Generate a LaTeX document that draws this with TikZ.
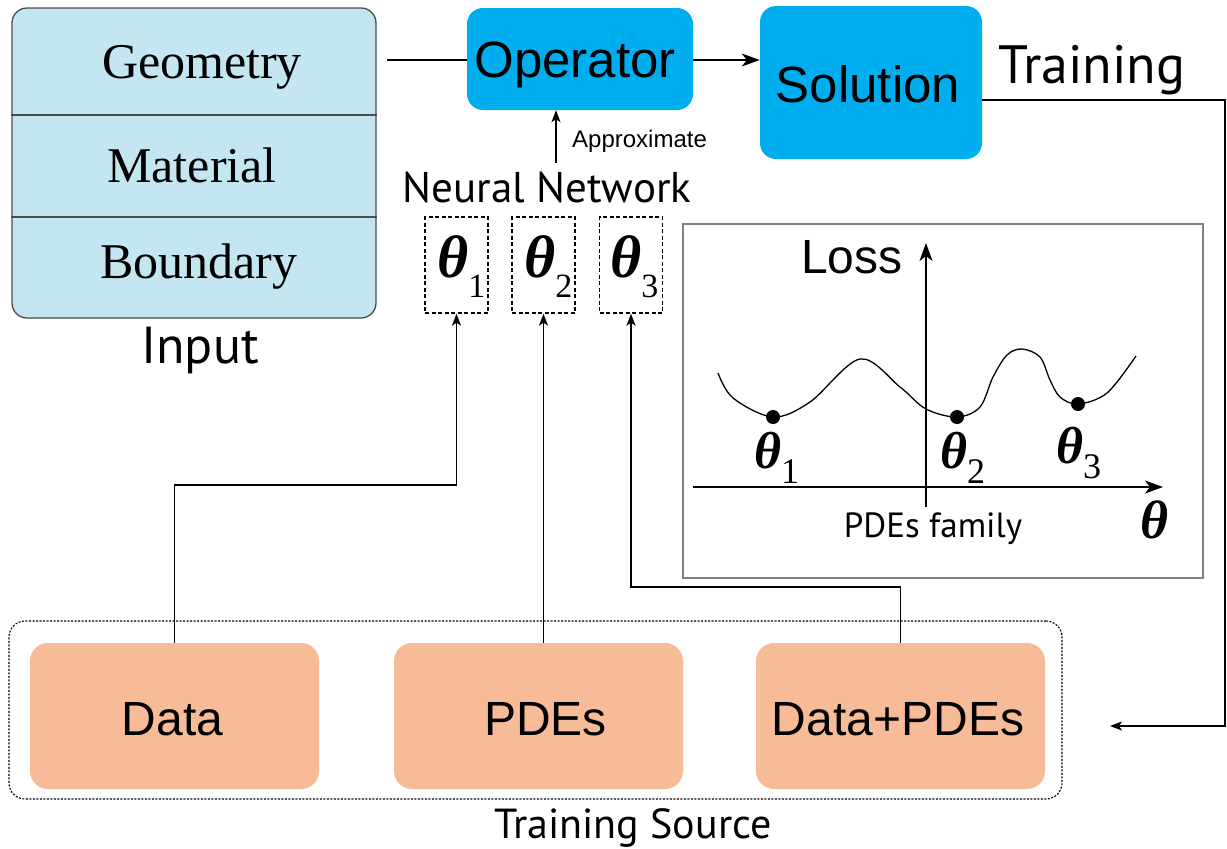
\documentclass[tikz,border=0pt]{standalone}
\usepackage{fontspec}
\setmainfont{Liberation Serif}
\setsansfont{Liberation Sans}
\newfontfamily\myr{PT Sans}
\usetikzlibrary{arrows.meta}
\definecolor{inblue}{HTML}{C3E6F1}
\definecolor{opblue}{HTML}{00AEEF}
\definecolor{srcorange}{HTML}{F7BB97}
\definecolor{panelgray}{HTML}{808080}
\definecolor{edgegray}{HTML}{4D4D4D}
\newcommand{\fs}[1]{\fontsize{#1}{#1}\selectfont}
% bold theta with a subscript index
\newcommand{\thbox}[1]{{\fs{60}\bfseries\itshape θ}\raisebox{-20pt}{\fs{34}#1}}
\newcommand{\thplot}[1]{{\fs{52}\bfseries\itshape θ}\raisebox{-15pt}{\fs{36}#1}}
\begin{document}
\begin{tikzpicture}[x=1pt,y=-1pt,
  inputbox/.style={draw=edgegray, line width=1.3pt, fill=inblue, rounded corners=15pt, inner sep=0pt},
  divider/.style={draw=edgegray, line width=1.3pt},
  opbox/.style={fill=opblue, rounded corners=16pt, inner sep=0pt},
  srcbox/.style={fill=srcorange, rounded corners=18pt, inner sep=0pt, minimum width=289pt, minimum height=146pt},
  srcframe/.style={draw, line width=1.1pt, dash pattern=on 2pt off 1.5pt, rounded corners=16pt, inner sep=0pt},
  thetabox/.style={draw, line width=1.4pt, dash pattern=on 4pt off 2.5pt, inner sep=0pt, minimum width=63pt, minimum height=96pt},
  panel/.style={draw=panelgray, line width=1.8pt, inner sep=0pt},
  wire/.style={line width=1.3pt},
  arr/.style={wire, -{Stealth[length=12pt,width=9pt,inset=3pt]}},
  bigarr/.style={wire, -{Stealth[length=18pt,width=13pt,inset=5pt]}},
  txt/.style={inner sep=0pt, anchor=base},
  serif/.style={txt, font=\fs{50}},
  arial/.style={txt, font=\sffamily\fs{51}},
  myriad/.style={txt, font=\myr\fs{#1}},
]
\useasboundingbox (0,0) rectangle (1227,849);

% input block
\node[inputbox, minimum width=364pt, minimum height=310pt] (inp) at (194,163) {};
\coordinate (d1) at (0,115);
\coordinate (d2) at (0,217);
\draw[divider] (inp.west |- d1) -- (inp.east |- d1);
\draw[divider] (inp.west |- d2) -- (inp.east |- d2);
\node[serif] (geo) at (202,78) {Geometry};
\node[serif] (mat) at (192,182) {Material};
\node[serif] (bnd) at (199,278) {Boundary};
\node[myriad=52] (inlbl) at (200,363) {Input};

% operator and solution
\node[opbox, minimum width=226pt, minimum height=102pt] (op) at (580,59) {};
\node[arial] (optxt) at (575,77) {Operator};
\node[opbox, minimum width=222pt, minimum height=153pt] (sol) at (871,82.5) {};
\node[arial] (soltxt) at (868,102) {Solution};
\node[myriad=54] (trtxt) at (1092,83) {Training};

\coordinate (ginp) at (387,60);
\draw[wire] (ginp) -- (ginp -| op.west);
\draw[bigarr] (ginp -| op.east) -- (ginp -| sol.west);

% approximation by the network
\coordinate (apb) at (556,163);
\draw[arr] (apb) -- (apb |- op.south);
\node[txt, anchor=base west, font=\sffamily\fs{24}] (apx) at (572,147) {Approximate};
\node[myriad=43] (nn) at (547,202) {Neural Network};

\node[thetabox] (t1) at (456.5,265) {};
\node[thetabox] (t2) at (543.5,265) {};
\node[thetabox] (t3) at (631,265) {};
\node[txt, anchor=base west] (t1l) at (437,277) {\thbox{1}};
\node[txt, anchor=base west] (t2l) at (524,277) {\thbox{2}};
\node[txt, anchor=base west] (t3l) at (610,277) {\thbox{3}};

% training sources
\node[srcframe, minimum width=1053pt, minimum height=178pt] (src) at (535.5,710) {};
\node[srcbox] (data) at (174.5,716) {};
\node[srcbox] (pdes) at (538.5,716) {};
\node[srcbox] (dp) at (900.5,716) {};
\node[txt, font=\sffamily\fs{48}] (datatxt) at (172.5,735) {Data};
\node[txt, font=\sffamily\fs{48}] (pdestxt) at (545.5,735) {PDEs};
\node[txt, font=\sffamily\fs{48}] (dptxt) at (898,735) {Data+PDEs};
\node[myriad=42] (srclbl) at (633,838) {Training Source};

\coordinate (j1) at (0,485);
\coordinate (j3) at (0,587);
\draw[arr] (data.north) -- (data.north |- j1) -| (t1.south);
\draw[arr] (t2.south |- pdes.north) -- (t2.south);
\draw[arr] (dp.north) -- (dp.north |- j3) -| (t3.south);

% training feedback loop
\coordinate (tr1) at (1225,100);
\coordinate (tr2) at (1110,726);
\draw[arr] (sol.east |- tr1) -- (tr1) |- (tr2);

% loss landscape panel
\node[panel, minimum width=520pt, minimum height=354pt] (pnl) at (943,401) {};
\coordinate (xa0) at (693,487);
\coordinate (xa1) at (1163,487);
\coordinate (ya0) at (926,507);
\coordinate (ya1) at (926,243);
\draw[bigarr] (xa0) -- (xa1);
\draw[bigarr] (ya0) -- (ya1);
\node[txt, font=\sffamily\fs{48}] (losstxt) at (852,273) {Loss};
\node[myriad=35] (famtxt) at (933,537) {PDEs family};
\node[txt, font=\fs{54}\bfseries\itshape] (axth) at (1155,538) {θ};

\draw[line width=1.3pt] plot[smooth, tension=0.55] coordinates {
  (718,373) (733,398) (773,417) (810,402) (860,359) (900,387)
  (926,409) (957,417) (980,407) (993,377) (1007,355) (1022,349)
  (1040,357) (1050,380) (1060,397) (1078,404) (1107,393) (1136,356)};
\fill (773,417) circle (7pt);
\fill (957,417) circle (7pt);
\fill (1078,404) circle (7pt);
\node[txt, anchor=base west] (p1) at (754,468) {\thplot{1}};
\node[txt, anchor=base west] (p2) at (940,468) {\thplot{2}};
\node[txt, anchor=base west] (p3) at (1056,463) {\thplot{3}};
\end{tikzpicture}
\end{document}
